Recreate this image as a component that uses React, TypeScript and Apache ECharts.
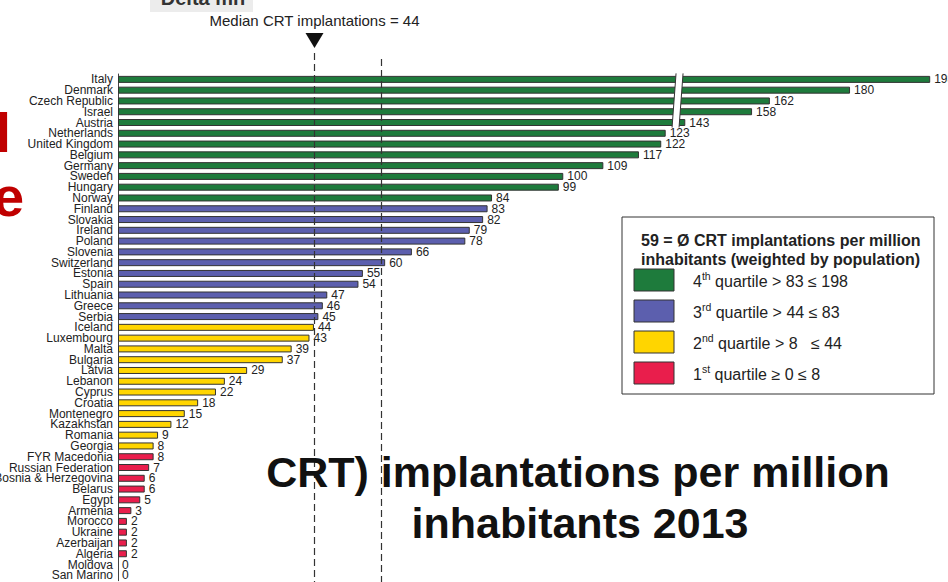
import React, { useEffect, useRef } from 'react';
import * as echarts from 'echarts';

const FONT = '"Liberation Sans", Arial, Helvetica, sans-serif';

const countries = [
  'Italy', 'Denmark', 'Czech Republic', 'Israel', 'Austria', 'Netherlands', 'United Kingdom',
  'Belgium', 'Germany', 'Sweden', 'Hungary', 'Norway', 'Finland', 'Slovakia', 'Ireland', 'Poland',
  'Slovenia', 'Switzerland', 'Estonia', 'Spain', 'Lithuania', 'Greece', 'Serbia', 'Iceland',
  'Luxembourg', 'Malta', 'Bulgaria', 'Latvia', 'Lebanon', 'Cyprus', 'Croatia', 'Montenegro',
  'Kazakhstan', 'Romania', 'Georgia', 'FYR Macedonia', 'Russian Federation', 'Bosnia & Herzegovina',
  'Belarus', 'Egypt', 'Armenia', 'Morocco', 'Ukraine', 'Azerbaijan', 'Algeria', 'Moldova', 'San Marino',
];

const implantations = [
  198, 180, 162, 158, 143, 123, 122, 117, 109, 100, 99, 84, 83, 82, 79, 78, 66, 60, 55, 54, 47, 46, 45,
  44, 43, 39, 37, 29, 24, 22, 18, 15, 12, 9, 8, 8, 7, 6, 6, 5, 3, 2, 2, 2, 2, 0, 0,
];

const quartiles = [
  4, 4, 4, 4, 4, 4, 4, 4, 4, 4, 4, 4,
  3, 3, 3, 3, 3, 3, 3, 3, 3, 3, 3,
  2, 2, 2, 2, 2, 2, 2, 2, 2, 2, 2, 2,
  1, 1, 1, 1, 1, 1, 1, 1, 1, 1, 1, 1,
];

const quartileColors: Record<number, string> = {
  4: '#1e7b3c',
  3: '#5c5fae',
  2: '#ffd500',
  1: '#e91e4c',
};

const legendQuartiles = [4, 3, 2, 1];
const legendOrdinals = ['4', '3', '2', '1'];
const legendSuffixes = ['th', 'rd', 'nd', 'st'];
const legendRanges = [' quartile > 83 ≤ 198', ' quartile > 44 ≤ 83', ' quartile > 8   ≤ 44', ' quartile ≥ 0 ≤ 8'];
const legendTitle = ['59 = Ø CRT implantations per million', 'inhabitants (weighted by population)'];

const medianValue = 44;
const meanValue = 59;
const axisBreak = { start: 125, end: 141.6, gap: 1 };

export default function App() {
  const ref = useRef<HTMLDivElement>(null);

  useEffect(() => {
    if (!ref.current) return;
    const chart = echarts.init(ref.current, undefined, { renderer: 'svg' });

    const brokenRows = implantations.map((v, i) => (v > axisBreak.end ? i : -1)).filter((i) => i >= 0);

    const legendGraphics: any[] = [
      {
        type: 'rect',
        shape: { x: 622, y: 217, width: 312, height: 177 },
        style: { fill: '#fff', stroke: '#333', lineWidth: 1 },
      },
      {
        type: 'text',
        x: 641,
        y: 240,
        style: { text: legendTitle[0], fontSize: 16, fontWeight: 'bold', fontFamily: FONT, fill: '#222', verticalAlign: 'middle' },
      },
      {
        type: 'text',
        x: 641,
        y: 259,
        style: { text: legendTitle[1], fontSize: 16, fontWeight: 'bold', fontFamily: FONT, fill: '#222', verticalAlign: 'middle' },
      },
    ];
    legendQuartiles.forEach((q, k) => {
      const cy = 280 + k * 31;
      legendGraphics.push({
        type: 'rect',
        shape: { x: 634, y: cy - 11, width: 40, height: 22 },
        style: { fill: quartileColors[q], stroke: '#333', lineWidth: 1 },
      });
      legendGraphics.push({
        type: 'text',
        x: 693,
        y: cy,
        style: {
          text: `{n|${legendOrdinals[k]}}{s|${legendSuffixes[k]}}{n|${legendRanges[k]}}`,
          verticalAlign: 'middle',
          rich: {
            n: { fontSize: 16, fontFamily: FONT, fill: '#222', lineHeight: 19, verticalAlign: 'bottom' },
            s: { fontSize: 10.5, fontFamily: FONT, fill: '#222', lineHeight: 11, verticalAlign: 'top' },
          },
        },
      });
    });

    const option: any = {
      animation: false,
      backgroundColor: '#fff',
      grid: { left: 118, right: 0, top: 74, bottom: 1.3, containLabel: false, outerBoundsMode: 'none' },
      xAxis: {
        type: 'value',
        min: 0,
        max: 202,
        breaks: [{ start: axisBreak.start, end: axisBreak.end, gap: axisBreak.gap }],
        breakArea: { show: false },
        axisLine: { show: false },
        axisTick: { show: false },
        axisLabel: { show: false },
        splitLine: { show: false },
      },
      yAxis: {
        type: 'category',
        data: countries,
        inverse: true,
        axisLine: { show: true, lineStyle: { color: '#444', width: 1 } },
        axisTick: { show: false },
        axisLabel: { interval: 0, fontSize: 12, fontFamily: FONT, color: '#222', margin: 5 },
      },
      series: [
        {
          type: 'bar',
          barWidth: 7,
          data: implantations.map((v, i) => ({
            value: v,
            itemStyle: {
              color: quartileColors[quartiles[i]],
              borderColor: '#333',
              borderWidth: v === 0 ? 0 : 1,
            },
          })),
          label: {
            show: true,
            position: 'right',
            distance: 4,
            fontSize: 12,
            fontFamily: FONT,
            color: '#222',
            formatter: (p: any) => String(p.value),
          },
          z: 2,
        },
        {
          type: 'custom',
          coordinateSystem: 'cartesian2d',
          silent: true,
          z: 4,
          data: [[axisBreak.end, brokenRows[0], brokenRows[brokenRows.length - 1]]],
          encode: { x: 0, y: [1, 2] },
          renderItem: (params: any, api: any) => {
            const e = api.coord([api.value(0), api.value(1)]);
            const b = api.coord([api.value(0), api.value(2)]);
            const top = e[1] - 6;
            const bot = b[1] + 5;
            const w = 7;
            const br = [e[0], bot];
            const bl = [e[0] - w, bot];
            const tl = [e[0] - w + 4, top];
            const tr = [e[0] + 4, top];
            return {
              type: 'group',
              children: [
                { type: 'polygon', shape: { points: [tl, tr, br, bl] }, style: { fill: '#fff' } },
                { type: 'line', shape: { x1: tl[0], y1: tl[1], x2: bl[0], y2: bl[1] }, style: { stroke: '#333', lineWidth: 1 } },
                { type: 'line', shape: { x1: tr[0], y1: tr[1], x2: br[0], y2: br[1] }, style: { stroke: '#333', lineWidth: 1 } },
              ],
            };
          },
        },
        {
          type: 'custom',
          coordinateSystem: 'cartesian2d',
          silent: true,
          z: 5,
          data: [[medianValue, 0], [meanValue, 0]],
          encode: { x: 0, y: 1 },
          renderItem: (params: any, api: any) => {
            const v = api.value(0);
            const x = Math.round(api.coord([v, 0])[0]) + 0.5;
            const cs = params.coordSys;
            const bottom = cs.y + cs.height + 4;
            const isMedian = params.dataIndex === 0;
            const children: any[] = [
              {
                type: 'line',
                shape: { x1: x, y1: isMedian ? 53 : 59, x2: x, y2: bottom },
                style: { stroke: '#333', lineWidth: 1.2, lineDash: [7, 4] },
              },
            ];
            if (isMedian) {
              children.push({
                type: 'polygon',
                shape: { points: [[x - 9, 33], [x + 9, 33], [x, 48]] },
                style: { fill: '#111' },
              });
              children.push({
                type: 'text',
                x: x,
                y: 20,
                style: {
                  text: `Median CRT implantations = ${v}`,
                  align: 'center',
                  verticalAlign: 'middle',
                  fontSize: 15,
                  fontFamily: FONT,
                  fill: '#222',
                },
              });
            }
            return { type: 'group', children };
          },
        },
      ],
      graphic: [
        { type: 'rect', shape: { x: 150, y: -10, width: 103, height: 22 }, style: { fill: '#ececec' } },
        {
          type: 'text',
          x: 203,
          y: -2,
          style: { text: 'Delta mn', align: 'center', verticalAlign: 'middle', fontSize: 20, fontWeight: 'bold', fontFamily: FONT, fill: '#333' },
        },
        {
          type: 'text',
          x: -4.5,
          y: 132,
          style: { text: 'l', verticalAlign: 'middle', fontSize: 56, fontWeight: 'bold', fontFamily: FONT, fill: '#c00000' },
        },
        {
          type: 'text',
          x: -7,
          y: 196,
          style: { text: 'e', verticalAlign: 'middle', fontSize: 56, fontWeight: 'bold', fontFamily: FONT, fill: '#c00000' },
        },
        ...legendGraphics,
        {
          type: 'text',
          x: 578,
          y: 472,
          z: 100,
          style: { text: 'CRT) implantations per million', align: 'center', verticalAlign: 'middle', fontSize: 43, fontWeight: 'bold', fontFamily: FONT, fill: '#111' },
        },
        {
          type: 'text',
          x: 580,
          y: 523,
          z: 100,
          style: { text: 'inhabitants 2013', align: 'center', verticalAlign: 'middle', fontSize: 43, fontWeight: 'bold', fontFamily: FONT, fill: '#111' },
        },
      ],
    };

    chart.setOption(option);
    return () => chart.dispose();
  }, []);

  return <div ref={ref} style={{ position: 'absolute', left: 0, top: 0, width: 948, height: 582 }} />;
}
